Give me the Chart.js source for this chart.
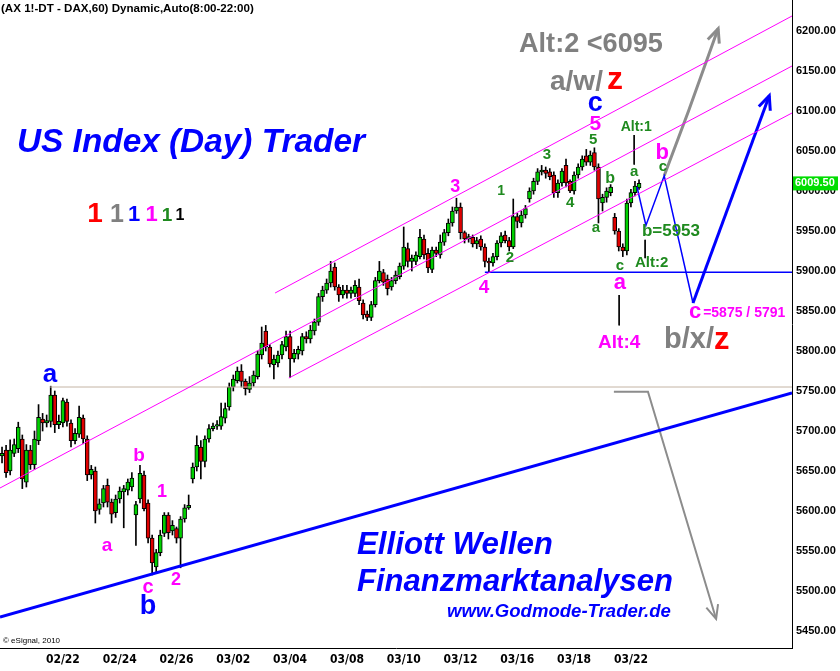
<!DOCTYPE html>
<html>
<head>
<meta charset="utf-8">
<script src="https://cdn.jsdelivr.net/npm/chart.js@4.4.0/dist/chart.umd.min.js"></script>
<style>
  html, body { margin: 0; padding: 0; background: #fff; }
  #wrap { width: 840px; height: 671px; position: relative; }
</style>
</head>
<body>
<div id="wrap"><canvas id="daxChart"></canvas></div>
<script>
// ---------- data: DAX hourly bars (bar index, OHLC) ----------
const opens = [5669,5676,5650,5672,5678,5690,5636,5676,5658,5688,5715,5710,5712,5745,5708,5710,5736,5710,5688,5696,
  5716,5690,5645,5650,5602,5610,5632,5611,5598,5615,5624,5626,5630,5595,5615,5645,5610,5566,5530,5548,
  5572,5595,5575,5578,5566,5590,5604,5640,5655,5680,5662,5690,5703,5706,5706,5716,5730,5755,5763,5775,
  5762,5752,5760,5768,5795,5825,5805,5783,5785,5795,5805,5818,5790,5796,5800,5818,5815,5825,5836,5868,
  5876,5885,5905,5880,5870,5876,5872,5872,5880,5860,5846,5842,5858,5888,5898,5890,5880,5888,5893,5906,
  5928,5912,5912,5918,5940,5922,5902,5926,5920,5936,5948,5960,5975,5980,5948,5940,5942,5934,5940,5930,
  5912,5910,5918,5935,5945,5938,5930,5968,5960,5970,5990,6000,6012,6024,6026,6024,6020,5998,6010,6032,
  6012,6000,6020,6030,6044,6036,6048,6030,5985,5992,5998,5967,5950,5930,5925,5985,5998,6004];
const highs = [5680,5682,5689,5690,5711,5695,5683,5682,5700,5733,5722,5720,5756,5750,5720,5741,5740,5714,5703,5731,
  5720,5694,5657,5655,5615,5632,5640,5615,5620,5630,5632,5640,5648,5612,5657,5650,5614,5570,5552,5576,
  5598,5598,5588,5580,5593,5608,5620,5660,5694,5688,5694,5708,5710,5713,5735,5735,5760,5770,5780,5783,
  5765,5768,5775,5800,5830,5832,5808,5795,5800,5812,5825,5825,5802,5806,5822,5824,5832,5840,5872,5881,
  5890,5912,5910,5883,5882,5882,5880,5888,5890,5864,5850,5862,5892,5912,5902,5895,5892,5900,5910,5955,
  5935,5920,5924,5952,5945,5928,5930,5930,5945,5952,5965,5980,5991,5985,5950,5946,5945,5942,5944,5934,
  5916,5922,5938,5948,5950,5942,5990,5972,5975,5982,6004,6016,6028,6032,6030,6028,6024,6014,6028,6040,
  6014,6024,6034,6044,6052,6050,6054,6034,5996,6004,6008,5972,5953,5934,5990,6002,6012,6014];
const lows = [5660,5642,5645,5668,5673,5628,5630,5652,5652,5683,5700,5705,5705,5698,5703,5705,5706,5680,5684,5692,
  5684,5638,5640,5585,5596,5605,5605,5585,5592,5610,5579,5620,5625,5557,5610,5600,5560,5520,5522,5544,
  5568,5565,5570,5560,5529,5586,5602,5635,5650,5640,5655,5686,5700,5702,5702,5710,5726,5750,5760,5755,
  5745,5748,5756,5765,5790,5800,5780,5765,5780,5790,5800,5767,5786,5790,5795,5810,5810,5820,5832,5862,
  5872,5880,5876,5862,5866,5866,5866,5868,5858,5840,5838,5838,5855,5885,5882,5870,5876,5884,5890,5902,
  5905,5900,5908,5915,5915,5898,5898,5918,5916,5932,5944,5956,5972,5940,5935,5936,5930,5928,5926,5905,
  5899,5906,5914,5930,5935,5925,5928,5954,5955,5966,5986,5996,6008,6020,6016,6014,5992,5992,6006,6005,
  5998,5996,6016,6026,6032,6032,6026,5960,5975,5986,5994,5946,5925,5918,5920,5980,5994,6002];
const closes = [5672,5648,5676,5683,5705,5640,5676,5658,5690,5717,5710,5713,5745,5708,5712,5738,5712,5688,5697,5717,
  5690,5645,5652,5600,5609,5628,5611,5596,5615,5625,5628,5636,5641,5608,5647,5603,5566,5535,5548,5570,
  5595,5573,5582,5566,5590,5604,5607,5655,5682,5662,5690,5703,5706,5708,5718,5728,5755,5765,5775,5762,
  5753,5760,5770,5796,5810,5805,5784,5790,5795,5808,5818,5790,5797,5802,5818,5815,5826,5836,5868,5876,
  5885,5900,5880,5870,5876,5872,5876,5882,5863,5845,5842,5858,5888,5900,5886,5878,5888,5895,5906,5930,
  5912,5916,5920,5942,5920,5904,5926,5922,5936,5948,5960,5975,5980,5948,5940,5943,5934,5938,5930,5912,
  5910,5918,5935,5944,5938,5930,5968,5962,5970,5978,6000,6012,6024,6026,6022,6018,5998,6010,6025,6010,
  6000,6020,6030,6040,6036,6045,6030,5990,5992,6000,6005,5950,5930,5925,5985,5998,6006,6009.5];
const lastPrice = 6009.5;

// date ticks: bar index where the day starts, and its label
const dayTicks = [15, 29, 43, 57, 71, 85, 99, 113, 127, 141, 155];
const dayLabels = ['02/22','02/24','02/26','03/02','03/04','03/08','03/10','03/12','03/16','03/18','03/22'];

// hand drawn lines [bar index, price]
const chanUpper = [[67.3, 5872.5], [194.7, 6218.75]];
const chanMiddle = [[-0.5, 5628.75], [194.7, 6156.25]];
const chanLower = [[70.7, 5766.25], [194.7, 6097.5]];
const supportLine = [[-0.5, 5467.5], [194.7, 5747.5]];
const levelA = [[11.8, 5755], [194.7, 5755]];
const level5900 = [[119, 5898.5], [194.7, 5898.5]];
const projBlueThin = [[156.5, 6005], [158.7, 5957], [163.2, 6019], [170.3, 5860]];
const projBlueThick = [[170.3, 5860], [189.1, 6119]];
const projGrayUp = [[163.2, 6019], [169.2, 6100], [176.5, 6203]];
const projGrayDown = [[150.8, 5749], [159.2, 5749], [176, 5465]];
const tickAlt1 = [[155.8, 6070], [155.8, 6033]];
const tickAlt2 = [[158.5, 5939], [158.5, 5916]];
const tickAlt4 = [[152.1, 5870], [152.1, 5832]];

const BLUE = '#0000ff', MAG = '#ff00ff', GRN = '#1f8a1f', GRAY = '#808080', RED = '#ff0000';
const SANS = "'Liberation Sans', Arial, sans-serif";
const NARROW = "'Liberation Sans Narrow', 'DejaVu Sans Condensed', sans-serif";

// wave labels in chart units: [text, bar index, price, colour, size, align]
const waveLabels = [
  ['a', 11.8, 5770, BLUE, 26],
  ['b', 33.8, 5669, MAG, 19],
  ['a', 25.9, 5557, MAG, 19],
  ['1', 39.4, 5624, MAG, 18],
  ['c', 36, 5504, MAG, 20],
  ['2', 42.9, 5514, MAG, 18],
  ['b', 36, 5480, BLUE, 27],
  ['3', 111.7, 6005, MAG, 18],
  ['4', 118.8, 5879, MAG, 19],
  ['1', 123, 6000, GRN, 14],
  ['2', 125.2, 5917, GRN, 15],
  ['3', 134.3, 6045, GRN, 15],
  ['4', 140, 5985, GRN, 15],
  ['5', 145.7, 6064, GRN, 15],
  ['5', 146.2, 6083, MAG, 21],
  ['c', 146.2, 6109, BLUE, 27],
  ['a', 146.4, 5954, GRN, 15],
  ['b', 149.9, 6016, GRN, 16],
  ['c', 152.3, 5907, GRN, 15],
  ['a', 152.3, 5885, MAG, 22],
  ['a', 155.8, 6024, GRN, 15],
  ['b', 162.7, 6047, MAG, 22],
  ['c', 162.9, 6030, GRN, 15],
  ['c', 170.8, 5849, MAG, 22],
  ['Alt:1', 156.3, 6080, GRN, 14],
  ['b=5953', 157.7, 5950, GRN, 17, 'left'],
  ['Alt:2', 156, 5910, GRN, 15, 'left'],
  ['Alt:4', 146.9, 5810, MAG, 19, 'left'],
  ['=5875 / 5791', 172.8, 5847.5, MAG, 14, 'left'],
];

// captions in canvas pixels
const captions = [
  { t: '(AX 1!-DT - DAX,60) Dynamic,Auto(8:00-22:00)', x: 1, y: 9, w: 253, color: '#000', style: 'bold' },
  { t: 'US Index (Day) Trader', x: 17, y: 143, w: 348, color: BLUE, style: 'italic bold' },
  { t: 'Elliott Wellen', x: 357, y: 545, w: 196, color: BLUE, style: 'italic bold' },
  { t: 'Finanzmarktanalysen', x: 357, y: 582, w: 316, color: BLUE, style: 'italic bold' },
  { t: 'www.Godmode-Trader.de', x: 447, y: 612, w: 224, color: BLUE, style: 'italic bold' },
  { t: '\u00a9 eSignal, 2010', x: 3, y: 641, size: 8, color: '#000', style: '' },
  { t: 'Alt:2 <6095', x: 519, y: 45, w: 144, color: GRAY, style: 'bold' },
  { t: 'a/w/', x: 550, y: 82, size: 28, color: GRAY, style: 'bold' },
  { t: 'z', x: 607, y: 80, size: 32, color: RED, style: 'bold' },
  { t: 'b/x/', x: 664, y: 340, size: 29, color: GRAY, style: 'bold' },
  { t: 'z', x: 714, y: 340, size: 31, color: RED, style: 'bold' },
  { t: '1', x: 95, y: 214, size: 28, color: RED, style: 'bold', align: 'center' },
  { t: '1', x: 117, y: 215, size: 25, color: GRAY, style: 'bold', align: 'center' },
  { t: '1', x: 134, y: 215, size: 22, color: BLUE, style: 'bold', align: 'center' },
  { t: '1', x: 151.5, y: 215, size: 22, color: MAG, style: 'bold', align: 'center' },
  { t: '1', x: 167, y: 216, size: 19, color: GRN, style: 'bold', align: 'center' },
  { t: '1', x: 180, y: 216, size: 16, color: '#000', style: 'bold', align: 'center' },
];

// ---------- helpers ----------
function pts(arr) { return arr.map(p => ({ x: p[0], y: p[1] })); }
function lineDs(arr, color, width, extra) {
  return Object.assign({
    type: 'line', data: pts(arr), borderColor: color, borderWidth: width,
    pointRadius: 0, fill: false, tension: 0, order: 0
  }, extra || {});
}
function drawText(ctx, t, px, py, style, size, color, align, w) {
  if (w) {
    ctx.font = style + ' 100px ' + SANS;
    size = 100 * w / ctx.measureText(t).width;
  }
  ctx.font = style + ' ' + size + 'px ' + SANS;
  ctx.fillStyle = color;
  ctx.textAlign = align;
  ctx.textBaseline = 'middle';
  ctx.fillText(t, px, py);
}

const annotations = {
  id: 'annotations',
  afterDatasetsDraw(chart) {
    const { ctx, scales: { x, y } } = chart;
    ctx.save();
    // arrow heads at the end of flagged lines
    chart.data.datasets.forEach((ds, i) => {
      if (!ds.arrowHead) return;
      const el = chart.getDatasetMeta(i).data;
      const p1 = el[el.length - 2], p2 = el[el.length - 1];
      const a = Math.atan2(p2.y - p1.y, p2.x - p1.x);
      ctx.strokeStyle = ds.borderColor;
      ctx.lineWidth = ds.borderWidth;
      ctx.beginPath();
      ctx.moveTo(p2.x - 15 * Math.cos(a - 0.42), p2.y - 15 * Math.sin(a - 0.42));
      ctx.lineTo(p2.x, p2.y);
      ctx.lineTo(p2.x - 15 * Math.cos(a + 0.42), p2.y - 15 * Math.sin(a + 0.42));
      ctx.stroke();
    });
    waveLabels.forEach(l => {
      drawText(ctx, l[0], x.getPixelForValue(l[1]), y.getPixelForValue(l[2]),
        'bold', l[4], l[3], l[5] || 'center');
    });
    captions.forEach(c => {
      drawText(ctx, c.t, c.x, c.y, c.style, c.size, c.color, c.align || 'left', c.w);
    });
    ctx.restore();
  },
  afterDraw(chart) {
    const { ctx, chartArea, scales: { y } } = chart;
    const py = y.getPixelForValue(lastPrice);
    ctx.save();
    ctx.fillStyle = '#00dd00';
    ctx.fillRect(chartArea.right + 1, py - 7, 45, 14);
    ctx.font = 'bold 11px ' + SANS;
    ctx.fillStyle = '#fff';
    ctx.textAlign = 'left';
    ctx.textBaseline = 'middle';
    ctx.fillText(lastPrice.toFixed(2), chartArea.right + 3, py);
    ctx.restore();
  }
};

// ---------- chart ----------
const bodyColors = closes.map((c, i) => c >= opens[i] ? '#00d000' : '#e00000');

new Chart(document.getElementById('daxChart'), {
  type: 'bar',
  data: {
    datasets: [
      lineDs(chanUpper, MAG, 1),
      lineDs(chanMiddle, MAG, 1),
      lineDs(chanLower, MAG, 1),
      lineDs(supportLine, BLUE, 3),
      lineDs(levelA, '#c4b4a4', 1),
      lineDs(level5900, BLUE, 1.5),
      lineDs(projBlueThin, BLUE, 1.5),
      lineDs(projBlueThick, BLUE, 3, { arrowHead: true }),
      lineDs(projGrayUp, '#8c8c8c', 3, { arrowHead: true }),
      lineDs(projGrayDown, '#8c8c8c', 2, { arrowHead: true }),
      lineDs(tickAlt1, '#000', 1),
      lineDs(tickAlt2, '#000', 1),
      lineDs(tickAlt4, '#000', 1),
      {
        type: 'bar', order: 2, grouped: false, barThickness: 1,
        data: closes.map((c, i) => ({ x: i, y: [lows[i], highs[i]] })),
        backgroundColor: '#000'
      },
      {
        type: 'bar', order: 1, grouped: false, barThickness: 4,
        data: closes.map((c, i) => ({ x: i, y: [opens[i], c] })),
        backgroundColor: bodyColors, borderColor: '#000', borderWidth: 1, borderSkipped: false
      }
    ]
  },
  options: {
    responsive: true,
    maintainAspectRatio: false,
    animation: false,
    layout: { padding: 0 },
    plugins: { legend: { display: false }, tooltip: { enabled: false } },
    scales: {
      x: {
        type: 'linear', position: 'bottom', min: -0.5, max: 194.7, offset: false,
        grid: { display: false, drawTicks: false },
        border: { display: true, color: '#000', width: 1 },
        ticks: {
          autoSkip: false, maxRotation: 0, padding: 5, color: '#000',
          font: { family: NARROW, size: 12, weight: 'bold' },
          callback: (v, i) => dayLabels[i]
        },
        afterBuildTicks: s => { s.ticks = dayTicks.map(v => ({ value: v })); },
        afterFit: s => { s.height = 23; s.paddingLeft = 0; s.paddingRight = 0; }
      },
      y: {
        position: 'right', min: 5428.75, max: 6238.75,
        grid: { display: false, drawTicks: false },
        border: { display: true, color: '#000', width: 1 },
        ticks: {
          stepSize: 50, includeBounds: false, padding: 4, color: '#000',
          font: { family: SANS, size: 11, weight: 'bold' },
          callback: v => v.toFixed(2)
        },
        afterFit: s => { s.width = 48; s.paddingTop = 0; s.paddingBottom = 0; }
      }
    }
  },
  plugins: [annotations]
});
</script>
</body>
</html>
